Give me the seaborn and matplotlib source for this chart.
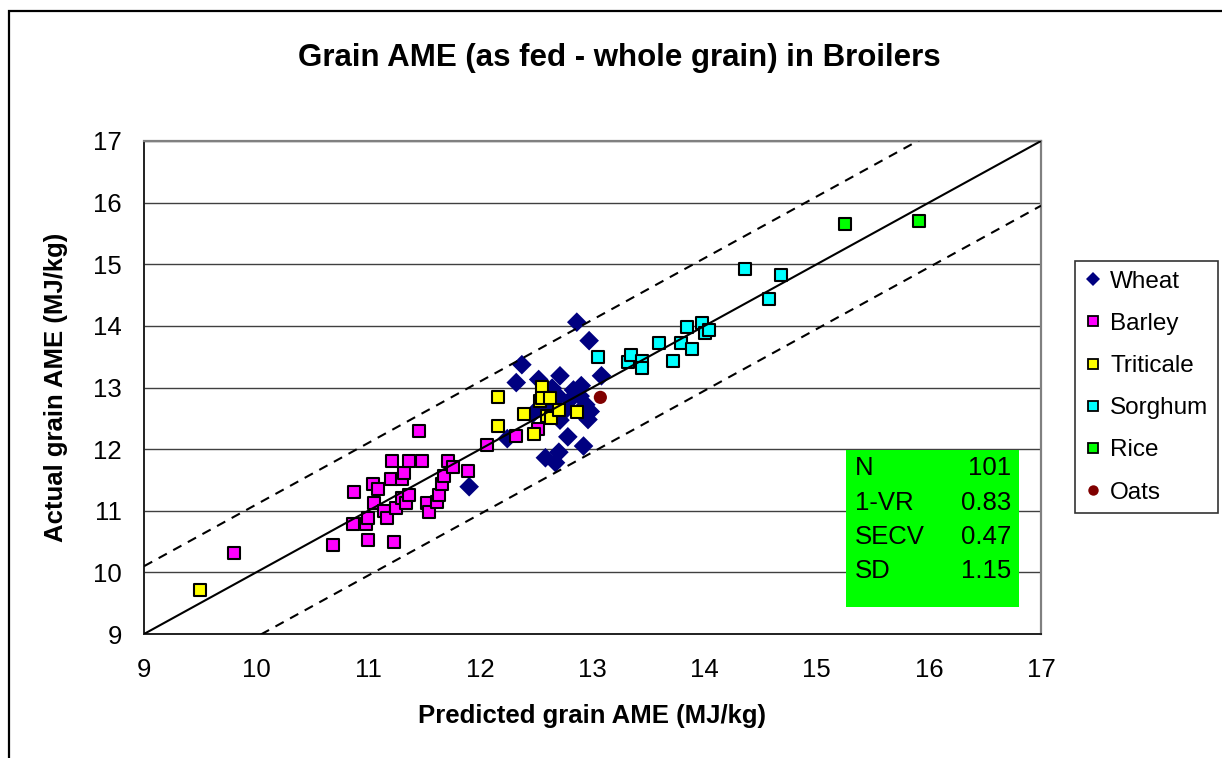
import matplotlib
matplotlib.use("Agg")
import matplotlib.pyplot as plt
from matplotlib.lines import Line2D
from matplotlib.patches import Rectangle
import seaborn as sns
import pandas as pd
import numpy as np

# ---- data: predicted vs actual AME (MJ/kg) ----
wheat_x = [11.90, 12.24, 12.32, 12.37, 12.47, 12.52, 12.55, 12.58, 12.62, 12.64,
           12.67, 12.70, 12.70, 12.71, 12.71, 12.75, 12.78, 12.80, 12.83, 12.85,
           12.86, 12.89, 12.90, 12.92, 12.94, 12.96, 12.97, 12.98, 13.08]
wheat_y = [11.39, 12.17, 13.08, 13.37, 12.58, 13.13, 12.70, 11.86, 12.60, 12.99,
           11.78, 11.95, 12.85, 13.19, 12.47, 12.62, 12.20, 12.80, 12.96, 12.93,
           14.06, 12.86, 13.03, 12.05, 12.72, 12.48, 13.76, 12.61, 13.19]

barley_x = [9.80, 10.69, 10.86, 10.87, 10.98, 11.00, 11.00, 11.04, 11.05, 11.09,
            11.14, 11.17, 11.20, 11.21, 11.23, 11.25, 11.30, 11.30, 11.32, 11.34,
            11.36, 11.36, 11.45, 11.48, 11.52, 11.54, 11.61, 11.63, 11.66, 11.68,
            11.71, 11.76, 11.89, 12.06, 12.32, 12.51]
barley_y = [10.31, 10.44, 10.79, 11.31, 10.79, 10.53, 10.89, 11.44, 11.12, 11.35,
            11.00, 10.89, 11.51, 11.80, 10.50, 11.05, 11.52, 11.20, 11.61, 11.12,
            11.25, 11.80, 12.29, 11.80, 11.12, 10.98, 11.15, 11.25, 11.43, 11.57,
            11.80, 11.71, 11.64, 12.06, 12.22, 12.32]

triticale_x = [9.50, 12.16, 12.16, 12.39, 12.48, 12.53, 12.55, 12.55, 12.59, 12.62,
               12.63, 12.70, 12.86]
triticale_y = [9.72, 12.84, 12.38, 12.57, 12.25, 12.78, 13.01, 12.83, 12.54, 12.83,
               12.51, 12.64, 12.61]

sorghum_x = [13.05, 13.32, 13.34, 13.44, 13.44, 13.59, 13.72, 13.79, 13.84, 13.89,
             13.98, 14.00, 14.04, 14.36, 14.57, 14.68]
sorghum_y = [13.49, 13.42, 13.53, 13.43, 13.31, 13.72, 13.43, 13.72, 13.98, 13.62,
             14.04, 13.88, 13.94, 14.92, 14.43, 14.82]

rice_x = [15.25, 15.91]
rice_y = [15.66, 15.70]

oats_x = [13.07]
oats_y = [12.84]

grains = ["Wheat", "Barley", "Triticale", "Sorghum", "Rice", "Oats"]
colors = ["#000080", "#FF00FF", "#FFFF00", "#00FFFF", "#00FF00", "#800000"]
markers = ["D", "s", "s", "s", "s", "o"]

stat_names = ["N", "1-VR", "SECV", "SD"]
stat_values = ["101", "0.83", "0.47", "1.15"]

axis_ticks = [9, 10, 11, 12, 13, 14, 15, 16, 17]
upper_offset = 1.1
lower_offset = -1.05

frames = []
for g, xs, ys in zip(grains,
                     [wheat_x, barley_x, triticale_x, sorghum_x, rice_x, oats_x],
                     [wheat_y, barley_y, triticale_y, sorghum_y, rice_y, oats_y]):
    frames.append(pd.DataFrame({"grain": g, "predicted": xs, "actual": ys}))
df = pd.concat(frames, ignore_index=True)

sns.set_theme(style="white")
plt.rcParams["font.family"] = ["Liberation Sans", "DejaVu Sans"]
plt.rcParams["text.color"] = "black"
plt.rcParams["axes.labelcolor"] = "black"
plt.rcParams["xtick.color"] = "black"
plt.rcParams["ytick.color"] = "black"

W, H = 1222, 758
FS = 18.5
fig = plt.figure(figsize=(W / 100, H / 100), dpi=100)
fig.patch.set_facecolor("white")
ax = fig.add_axes([144 / W, 1 - 634 / H, 897 / W, 493 / H])

# chart-area border
fig.add_artist(Rectangle((8.5 / W, -0.2), 2.0, 1.2 - 10.5 / H,
                         transform=fig.transFigure, fill=False,
                         edgecolor="black", lw=1.6))

sizes = {"D": 100, "s": 78, "o": 90}
for g, c, m in zip(grains, colors, markers):
    sub = df[df["grain"] == g]
    edge = "black" if m == "s" else "none"
    sns.scatterplot(data=sub, x="predicted", y="actual", ax=ax, marker=m,
                    color=c, edgecolor=edge, linewidth=1.5 if m == "s" else 0,
                    s=sizes[m], zorder=3, legend=False)

t = np.array([axis_ticks[0], axis_ticks[-1]], dtype=float)
ax.plot(t, t, color="black", lw=1.5, zorder=4)
ax.plot(t, t + upper_offset, color="black", lw=1.5, ls=(0, (4.5, 3.5)), zorder=4)
ax.plot(t, t + lower_offset, color="black", lw=1.5, ls=(0, (4.5, 3.5)), zorder=4)

ax.set_xlim(axis_ticks[0], axis_ticks[-1])
ax.set_ylim(axis_ticks[0], axis_ticks[-1])
ax.set_xticks(axis_ticks)
ax.set_yticks(axis_ticks)
ax.set_xticklabels([str(v) for v in axis_ticks])
ax.set_yticklabels([str(v) for v in axis_ticks])
ax.yaxis.grid(True, color="#404040", lw=1.0, zorder=1)
ax.xaxis.grid(False)
ax.set_axisbelow(True)

for side in ["top", "right"]:
    ax.spines[side].set_color("#808080")
    ax.spines[side].set_linewidth(1.6)
for side in ["left", "bottom"]:
    ax.spines[side].set_color("#202020")
    ax.spines[side].set_linewidth(1.4)

ax.tick_params(axis="both", direction="out", length=7, width=1.4,
               color="#202020", labelsize=FS, labelcolor="black")
ax.tick_params(axis="y", pad=9)
ax.tick_params(axis="x", pad=10)

ax.set_xlabel("Predicted grain AME (MJ/kg)", fontsize=FS, fontweight="bold",
              labelpad=16, color="black")
ax.set_ylabel("Actual grain AME (MJ/kg)", fontsize=FS, fontweight="bold",
              labelpad=18, color="black")

fig.text(619 / W, 1 - 58 / H, "Grain AME (as fed - whole grain) in Broilers",
         ha="center", va="center", fontsize=22.5, fontweight="bold",
         color="black")

# statistics box
ax.add_patch(Rectangle((0.783, 0.055), 0.192, 0.318, transform=ax.transAxes,
                       facecolor="#00FF00", edgecolor="none", zorder=5))
row_y = [0.3367, 0.2657, 0.1968, 0.1278]
for name, val, yy in zip(stat_names, stat_values, row_y):
    ax.text(0.7926, yy, name, transform=ax.transAxes, ha="left", va="center",
            fontsize=FS, zorder=6, color="black")
    ax.text(0.9666, yy, val, transform=ax.transAxes, ha="right", va="center",
            fontsize=FS, zorder=6, color="black")

# legend
LFS = 17.5
handles = []
for g, c, m in zip(grains, colors, markers):
    handles.append(Line2D([], [], linestyle="none", marker=m,
                          markersize=7.5 if m != "s" else 6.5,
                          markerfacecolor=c,
                          markeredgecolor="black" if m == "s" else c,
                          markeredgewidth=1.3 if m == "s" else 0, label=g))
leg = fig.legend(handles=handles, loc="upper left",
                 bbox_to_anchor=(1075 / W, 1 - 261 / H),
                 frameon=True, fancybox=False, fontsize=LFS,
                 handlelength=0.7, handletextpad=0.35, labelspacing=0.83,
                 borderpad=0.4, borderaxespad=0.0)
leg.get_frame().set_edgecolor("black")
leg.get_frame().set_linewidth(1.2)
for txt in leg.get_texts():
    txt.set_color("black")

fig.savefig("out.png", dpi=100, facecolor="white")
